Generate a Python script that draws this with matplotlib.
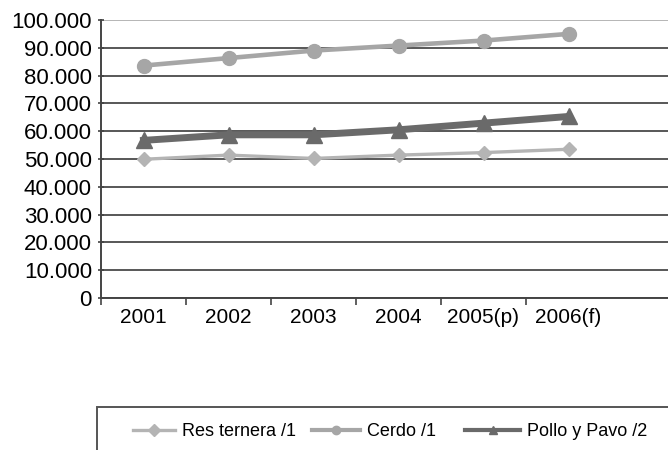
import matplotlib.pyplot as plt
from matplotlib.ticker import FuncFormatter, FixedLocator
from matplotlib.lines import Line2D
from matplotlib.patches import Rectangle

plt.rcParams['font.family'] = ['Liberation Sans', 'DejaVu Sans']

years = ['2001', '2002', '2003', '2004', '2005(p)', '2006(f)']
res_ternera = [49900, 51400, 50200, 51400, 52300, 53500]
cerdo = [83600, 86300, 89000, 90800, 92600, 95000]
pollo_pavo = [56700, 58700, 58700, 60500, 62900, 65300]
y_ticks = list(range(0, 100001, 10000))

W, H = 668, 450
fig = plt.figure(figsize=(W / 100, H / 100), dpi=100)
cat_w = 85
ax = fig.add_axes([101 / W, (H - 298) / H, (W - 101) / W, 278 / H])

styles = [
    dict(label='Res ternera /1', color='#b4b4b4', lw=2.4, marker='D', ms=7.5),
    dict(label='Cerdo /1', color='#a6a6a6', lw=3.3, marker='o', ms=10),
    dict(label='Pollo y Pavo /2', color='#6a6a6a', lw=5, marker='^', ms=11),
]
x = list(range(len(years)))
for vals, st in zip([res_ternera, cerdo, pollo_pavo], styles):
    ax.plot(x, vals, zorder=3, **st)

ax.set_xlim(-0.5, -0.5 + (W - 101) / cat_w)
ax.set_ylim(0, 100000)
ax.set_yticks(y_ticks)
ax.yaxis.set_major_formatter(
    FuncFormatter(lambda v, p: '0' if v == 0 else f'{int(v):,}'.replace(',', '.')))
ax.set_xticks(x)
ax.set_xticklabels(years)
ax.xaxis.set_minor_locator(FixedLocator([i - 0.5 for i in range(len(years))]))
ax.tick_params(axis='x', which='major', length=0, pad=7, labelsize=15)
ax.tick_params(axis='x', which='minor', length=5, width=1.2, color='#444444',
               direction='out')
ax.tick_params(axis='y', length=5, width=1.2, color='#444444', direction='inout',
               labelsize=16, pad=4)

ax.grid(axis='y', color='#4a4a4a', lw=1.3, zorder=1)
ax.get_ygridlines()[-1].set_color('#b0b0b0')
ax.set_axisbelow(True)
for s in ['top', 'right']:
    ax.spines[s].set_visible(False)
for s in ['left', 'bottom']:
    ax.spines[s].set_color('#444444')
    ax.spines[s].set_linewidth(1.4)

# legend box (cropped at right/bottom like the reference)
fig.patches.append(Rectangle((97 / W, -0.2), 2, (H - 407) / H + 0.2,
                             transform=fig.transFigure, fill=False,
                             ec='#555555', lw=1.4))
leg_x = [133, 312, 465]
leg_len = [42, 48, 55]
for st, lx, ll in zip(styles, leg_x, leg_len):
    h = Line2D([], [], color=st['color'], lw=min(st['lw'], 3), marker=st['marker'],
               ms=6)
    fs = 13
    fig.legend([h], [st['label']], loc='center left',
               bbox_to_anchor=(lx / W, (H - 432) / H), frameon=False,
               fontsize=fs, borderpad=0, borderaxespad=0,
               handlelength=ll / (fs * 100 / 72), handletextpad=0.4)

fig.savefig('out.png', dpi=100)
